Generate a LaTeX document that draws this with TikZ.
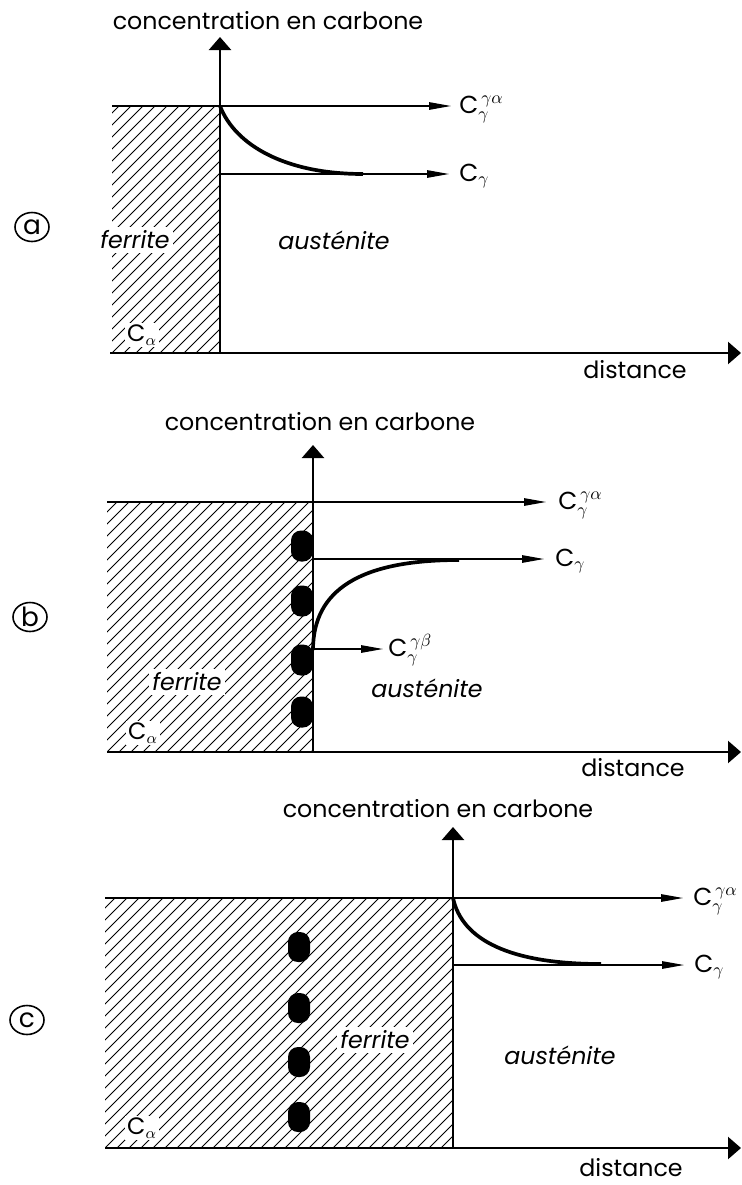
\documentclass[tikz,border=0pt]{standalone}
\usepackage{fontspec}
\setmainfont{Poppins}
\usetikzlibrary{positioning,arrows.meta,shapes.geometric}

\begin{document}
\begin{tikzpicture}[x=0.2mm, y=-0.2mm,
  axis/.style={line width=1.3pt, -{Triangle[length=2.6mm,width=4.4mm]}},
  level/.style={line width=0.7pt, -{Triangle[length=4.4mm,width=1.5mm]}},
  profile/.style={line width=2.1pt},
  hatch/.style={line width=0.45pt},
  blob/.style={fill=black, rounded corners=2mm, minimum width=4.4mm, minimum height=6.2mm, inner sep=0pt},
  txt/.style={font=\fontsize{13.5}{15}\selectfont, inner sep=1pt},
  phase/.style={font=\fontsize{13.5}{15}\selectfont\itshape, fill=white, inner sep=2pt},
  lab/.style={font=\fontsize{14}{16}\selectfont, inner sep=0pt, anchor=base west},
  tag/.style={draw, ellipse, line width=0.9pt, minimum width=6.8mm, minimum height=5.8mm, inner sep=0pt, font=\fontsize{15}{17}\selectfont}]
  \useasboundingbox (0,0) rectangle (742,1185);

  % (a) ferrite / austenite, no carbide
  \begin{scope}
    \clip (112,106) rectangle (220,353);
    \foreach \s in {-252,-240,...,120} \draw[hatch] (112+\s,353) -- ++(250,-250);
  \end{scope}
  \coordinate (a-o) at (220,353);
  \coordinate (a-ytip) at (220,37);
  \coordinate (a-x0) at (110,353);
  \coordinate (a-xtip) at (741,353);
  \coordinate (a-h0) at (112,106);
  \coordinate (a-i) at (220,106);
  \coordinate (a-h1) at (451,106);
  \coordinate (a-g0) at (220,174);
  \coordinate (a-g1) at (449,174);
  \coordinate (a-g2) at (363,174);
  \node[txt] (a-yl) at (268,21) {concentration en carbone};
  \node[txt] (a-dist) at (635,370) {distance};
  \node[phase] (a-fer) at (135,240) {ferrite};
  \node[phase] (a-aus) at (334,240) {austénite};
  \node[txt, fill=white] (a-ca) at (142,335) {C$_\alpha$};
  \node[tag] (a-tag) at (32,227) {a};
  \node[lab] (a-cga) at (459,113) {C$_\gamma^{\,\gamma\alpha}$};
  \node[lab] (a-cg) at (459,181) {C$_\gamma$};
  \draw[level] (a-h0) -- (a-h1);
  \draw[level] (a-g0) -- (a-g1);
  \draw[axis] (a-o) -- (a-ytip);
  \draw[axis] (a-x0) -- (a-xtip);
  \draw[profile] (a-i) .. controls (235,145) and (285,174) .. (a-g2);

  % (b) carbides on the interface
  \begin{scope}
    \clip (107,502) rectangle (313,752);
    \foreach \s in {-252,-240,...,216} \draw[hatch] (107+\s,752) -- ++(250,-250);
  \end{scope}
  \coordinate (b-o) at (313,752);
  \coordinate (b-ytip) at (313,445);
  \coordinate (b-x0) at (107,752);
  \coordinate (b-xtip) at (741,752);
  \coordinate (b-h0) at (107,502);
  \coordinate (b-h1) at (546,502);
  \coordinate (b-g0) at (313,559);
  \coordinate (b-g1) at (544,559);
  \coordinate (b-g2) at (459,560);
  \coordinate (b-b0) at (313,649);
  \coordinate (b-b1) at (383,649);
  \coordinate (b-i) at (313,650);
  \node[txt] (b-yl) at (320,422) {concentration en carbone};
  \node[txt] (b-dist) at (633,768) {distance};
  \node[phase] (b-fer) at (187,682) {ferrite};
  \node[txt, font=\fontsize{13.5}{15}\selectfont\itshape] (b-aus) at (427,688) {austénite};
  \node[txt, fill=white] (b-ca) at (143,733) {C$_\alpha$};
  \node[tag] (b-tag) at (30,617) {b};
  \foreach \y [count=\k] in {546,601,660,712}
    \node[blob] (b-p\k) at (302,\y) {};
  \node[lab] (b-cga) at (558,509) {C$_\gamma^{\,\gamma\alpha}$};
  \node[lab] (b-cg) at (555,566) {C$_\gamma$};
  \node[lab] (b-cgb) at (388,656) {C$_\gamma^{\,\gamma\beta}$};
  \draw[level] (b-h0) -- (b-h1);
  \draw[level] (b-g0) -- (b-g1);
  \draw[level] (b-b0) -- (b-b1);
  \draw[axis] (b-o) -- (b-ytip);
  \draw[axis] (b-x0) -- (b-xtip);
  \draw[profile] (b-i) .. controls (313,590) and (360,560) .. (b-g2);

  % (c) carbides left behind in the ferrite
  \begin{scope}
    \clip (105,898) rectangle (453,1148);
    \foreach \s in {-252,-240,...,360} \draw[hatch] (105+\s,1148) -- ++(250,-250);
  \end{scope}
  \coordinate (c-o) at (453,1148);
  \coordinate (c-ytip) at (453,827);
  \coordinate (c-x0) at (105,1148);
  \coordinate (c-xtip) at (741,1148);
  \coordinate (c-h0) at (105,898);
  \coordinate (c-i) at (453,898);
  \coordinate (c-h1) at (683,898);
  \coordinate (c-g0) at (453,965);
  \coordinate (c-g1) at (684,965);
  \coordinate (c-g2) at (601,964);
  \node[txt] (c-yl) at (438,809) {concentration en carbone};
  \node[txt] (c-dist) at (631,1168) {distance};
  \node[phase] (c-fer) at (375,1040) {ferrite};
  \node[txt, font=\fontsize{13.5}{15}\selectfont\itshape] (c-aus) at (560,1055) {austénite};
  \node[txt, fill=white] (c-ca) at (142,1128) {C$_\alpha$};
  \node[tag] (c-tag) at (27,1020) {c};
  \foreach \y [count=\k] in {947,1008,1062,1117}
    \node[blob, minimum height=6mm] (c-p\k) at (299,\y) {};
  \node[lab] (c-cga) at (693,905) {C$_\gamma^{\,\gamma\alpha}$};
  \node[lab] (c-cg) at (694,972) {C$_\gamma$};
  \draw[level] (c-h0) -- (c-h1);
  \draw[level] (c-g0) -- (c-g1);
  \draw[axis] (c-o) -- (c-ytip);
  \draw[axis] (c-x0) -- (c-xtip);
  \draw[profile] (c-i) .. controls (462,940) and (510,964) .. (c-g2);
\end{tikzpicture}
\end{document}
